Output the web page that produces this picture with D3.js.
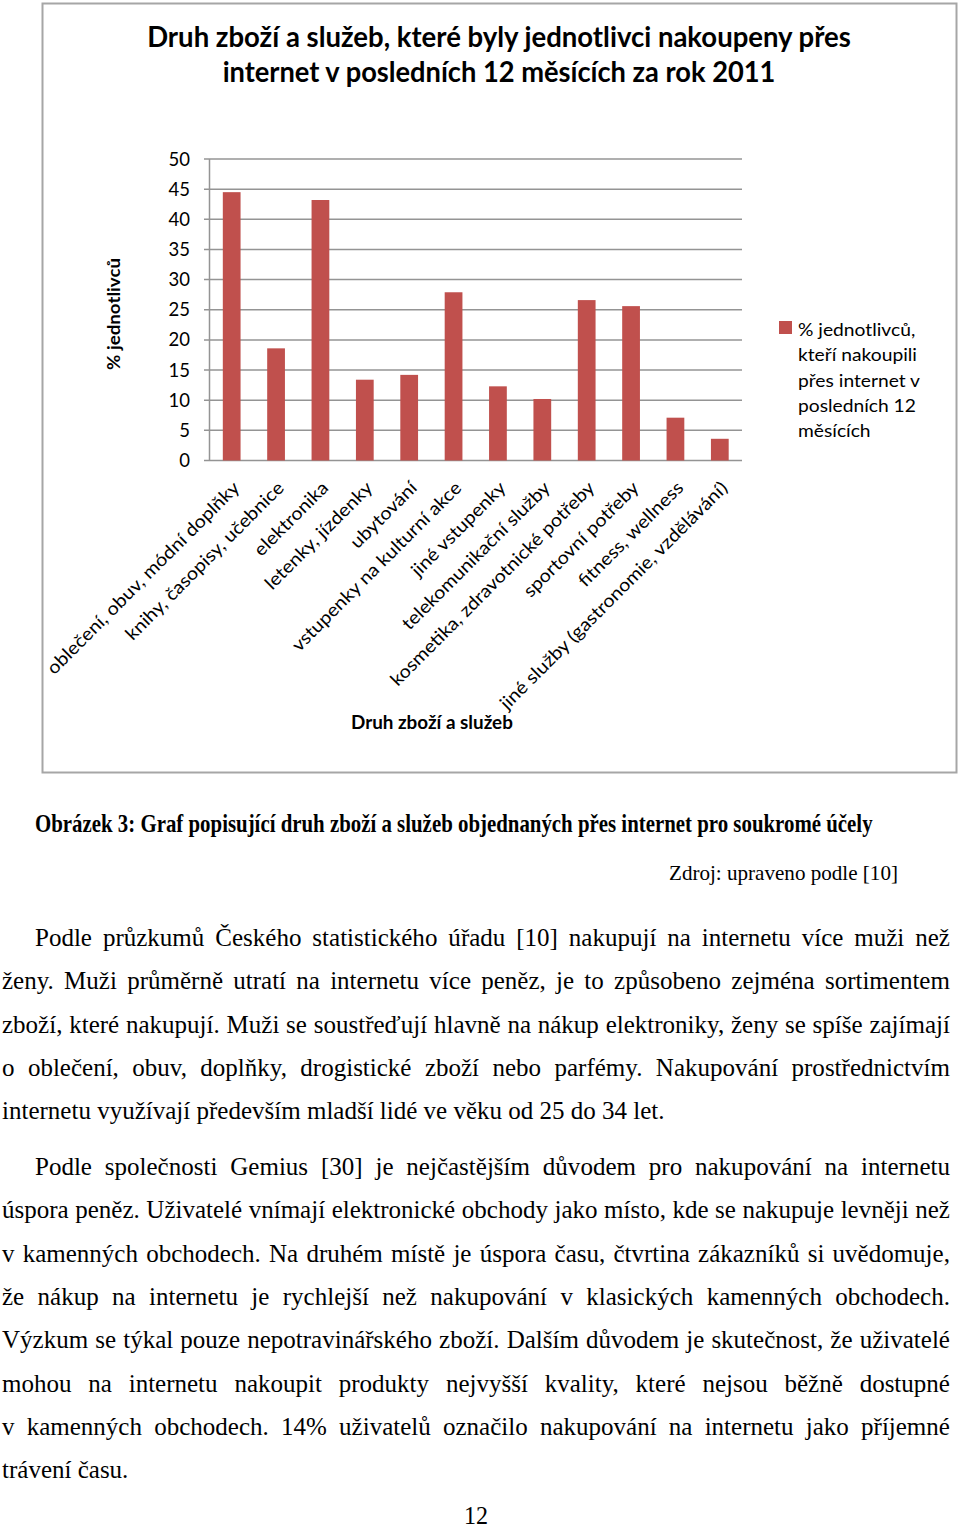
<!DOCTYPE html>
<html lang="cs">
<head>
<meta charset="UTF-8">
<title>Druh zboží a služeb</title>
<script src="https://cdn.jsdelivr.net/npm/d3@7"></script>
<style>
	body { margin: 0; background: #fff; }
	svg { display: block; }
	.ch { font-family: Lato, 'Open Sans', sans-serif; fill: #000; }
	.tx { font-family: 'Liberation Serif', 'Times New Roman', serif; fill: #000; }
</style>
</head>
<body>
<div id="page"></div>
<script>
// data
var categories = [
	"oblečení, obuv, módní doplňky",
	"knihy, časopisy, učebnice",
	"elektronika",
	"letenky, jízdenky",
	"ubytování",
	"vstupenky na kulturní akce",
	"jiné vstupenky",
	"telekomunikační služby",
	"kosmetika, zdravotnické potřeby",
	"sportovní potřeby",
	"fitness, wellness",
	"jiné služby (gastronomie, vzdělávání)"
];
var values = [44.5, 18.6, 43.2, 13.4, 14.2, 27.9, 12.3, 10.2, 26.6, 25.6, 7.1, 3.6];
var yTicks = [0, 5, 10, 15, 20, 25, 30, 35, 40, 45, 50];
var titleLines = ["Druh zboží a služeb, které byly jednotlivci nakoupeny přes", "internet v posledních 12 měsících za rok 2011"];
var legendLines = ["% jednotlivců,", "kteří nakoupili", "přes internet v", "posledních 12", "měsících"];
var yTitle = "% jednotlivců";
var xTitle = "Druh zboží a služeb";

var caption = "Obrázek 3: Graf popisující druh zboží a služeb objednaných přes internet pro soukromé účely";
var source = "Zdroj: upraveno podle [10]";
var para1 = [
	"Podle průzkumů Českého statistického úřadu [10] nakupují na internetu více muži než",
	"ženy. Muži průměrně utratí na internetu více peněz, je to způsobeno zejména sortimentem",
	"zboží, které nakupují. Muži se soustřeďují hlavně na nákup elektroniky, ženy se spíše zajímají",
	"o oblečení, obuv, doplňky, drogistické zboží nebo parfémy. Nakupování prostřednictvím",
	"internetu využívají především mladší lidé ve věku od 25 do 34 let."
];
var para2 = [
	"Podle společnosti Gemius [30] je nejčastějším důvodem pro nakupování na internetu",
	"úspora peněz. Uživatelé vnímají elektronické obchody jako místo, kde se nakupuje levněji než",
	"v kamenných obchodech. Na druhém místě je úspora času, čtvrtina zákazníků si uvědomuje,",
	"že nákup na internetu je rychlejší než nakupování v klasických kamenných obchodech.",
	"Výzkum se týkal pouze nepotravinářského zboží. Dalším důvodem je skutečnost, že uživatelé",
	"mohou na internetu nakoupit produkty nejvyšší kvality, které nejsou běžně dostupné",
	"v kamenných obchodech. 14% uživatelů označilo nakupování na internetu jako příjemné",
	"trávení času."
];
var pageNo = "12";

var W = 960, H = 1530;
var svg = d3.select("#page").append("svg").attr("width", W).attr("height", H);
svg.append("rect").attr("width", W).attr("height", H).attr("fill", "#fff");

// put text at x,y and squeeze it horizontally so it is w wide
function place(t, x, y, extra) {
	t.attr("data-t", "translate(" + x + "," + y + ")" + (extra || ""));
	t.attr("transform", t.attr("data-t"));
	return t;
}
function fitK(t, w) {
	return w / t.node().getComputedTextLength();
}
function squeeze(t, k) {
	t.attr("transform", t.attr("data-t") + " scale(" + k + ",1)");
}

// chart frame
svg.append("rect")
	.attr("x", 42.5).attr("y", 3.5).attr("width", 914).attr("height", 769)
	.attr("fill", "none").attr("stroke", "#a6a6a6").attr("stroke-width", 2);

// title
titleLines.forEach(function (s, i) {
	var t = place(svg.append("text").attr("class", "ch").attr("text-anchor", "middle")
		.attr("font-size", 29).attr("font-weight", 700).text(s), 499, 47 + i * 35);
	squeeze(t, fitK(t, i == 0 ? 704 : 553));
});

var x = d3.scaleBand().domain(categories).range([209.5, 742]).paddingInner(0.6).paddingOuter(0.3);
var y = d3.scaleLinear().domain([0, 50]).range([460.5, 159]);

// gridlines
svg.append("g").selectAll("line").data(yTicks).enter().append("line")
	.attr("x1", 204).attr("x2", 742)
	.attr("y1", function (d) { return y(d); }).attr("y2", function (d) { return y(d); })
	.attr("stroke", "#949494").attr("stroke-width", 1.5);
svg.append("line").attr("x1", 209.5).attr("x2", 209.5).attr("y1", y(50)).attr("y2", y(0))
	.attr("stroke", "#949494").attr("stroke-width", 1.5);

// bars
svg.append("g").selectAll("rect").data(values).enter().append("rect")
	.attr("x", function (d, i) { return x(categories[i]); })
	.attr("width", x.bandwidth())
	.attr("y", function (d) { return y(d); })
	.attr("height", function (d) { return y(0) - y(d); })
	.attr("fill", "#c0504d");

// y tick labels
yTicks.forEach(function (d) {
	place(svg.append("text").attr("class", "ch").attr("text-anchor", "end")
		.attr("font-size", 18.5).text(d), 190, y(d) + 6.5);
});

// category labels
var labels = categories.map(function (c) {
	return place(svg.append("text").attr("class", "ch").attr("text-anchor", "end")
		.attr("font-size", 18).text(c), x(c) + x.bandwidth() / 2 + 9, 489, " rotate(-45)");
});
var kLab = fitK(labels[0], 264);
labels.forEach(function (t) { squeeze(t, kLab); });

// axis titles
var yt = place(svg.append("text").attr("class", "ch").attr("text-anchor", "middle")
	.attr("font-size", 18).attr("font-weight", 700).text(yTitle), 120, 314, " rotate(-90)");
squeeze(yt, fitK(yt, 112));
var xt = place(svg.append("text").attr("class", "ch").attr("text-anchor", "start")
	.attr("font-size", 18).attr("font-weight", 700).text(xTitle), 351, 729);
squeeze(xt, fitK(xt, 162));

// legend
svg.append("rect").attr("x", 779).attr("y", 321).attr("width", 13).attr("height", 13).attr("fill", "#c0504d");
var leg = legendLines.map(function (s, i) {
	return place(svg.append("text").attr("class", "ch").attr("font-size", 17.5).text(s), 798, 336 + i * 25.3);
});
var kLeg = fitK(leg[1], 119);
leg.forEach(function (t) { squeeze(t, kLeg); });

// caption and source
var cap = place(svg.append("text").attr("class", "tx").attr("font-size", 25).attr("font-weight", 700).text(caption), 35, 832);
squeeze(cap, fitK(cap, 838));
var src = place(svg.append("text").attr("class", "tx").attr("font-size", 22).text(source), 669, 880);
squeeze(src, fitK(src, 229));

// body text, justified word by word
var probe = svg.append("text").attr("class", "tx").attr("font-size", 26).text(para1[4]);
var kBody = 663 / probe.node().getComputedTextLength();
probe.remove();

function writePara(lines, y0) {
	lines.forEach(function (line, i) {
		var yy = y0 + i * 43.3;
		var x0 = i == 0 ? 35 : 2;
		var words = line.split(" ");
		var g = svg.append("g");
		var ts = words.map(function (w) {
			return g.append("text").attr("class", "tx").attr("font-size", 26).text(w);
		});
		var widths = ts.map(function (t) { return t.node().getComputedTextLength() * kBody; });
		var sum = d3.sum(widths);
		var last = i == lines.length - 1;
		var gap = last ? 6.2 : (950 - x0 - sum) / (words.length - 1);
		var cx = x0;
		ts.forEach(function (t, j) {
			t.attr("transform", "translate(" + cx + "," + yy + ") scale(" + kBody + ",1)");
			cx += widths[j] + gap;
		});
	});
}
writePara(para1, 946);
writePara(para2, 1175);

svg.append("text").attr("class", "tx").attr("font-size", 25).attr("text-anchor", "middle")
	.attr("transform", "translate(476,1524) scale(" + kBody + ",1)").text(pageNo);
</script>
</body>
</html>
